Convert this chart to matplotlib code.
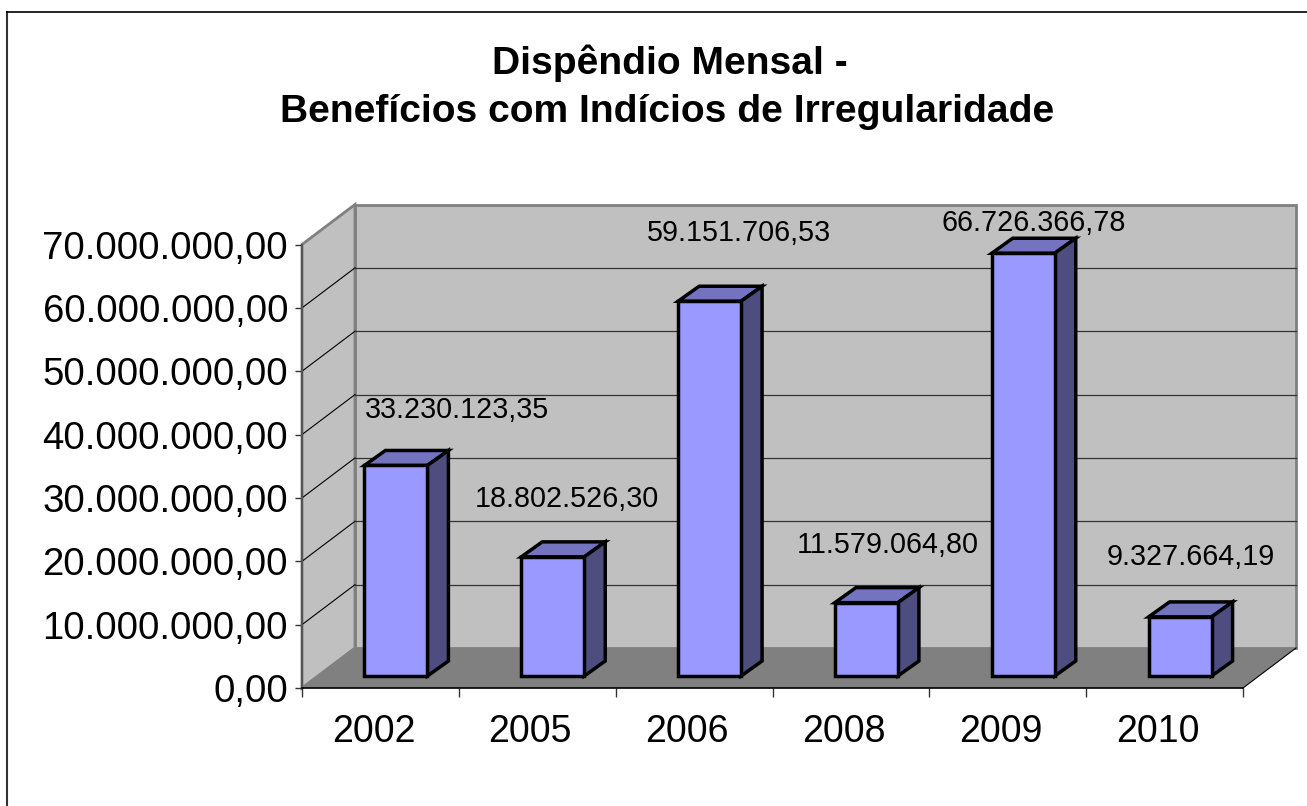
import matplotlib
matplotlib.use("Agg")
import matplotlib.pyplot as plt
from matplotlib.lines import Line2D

plt.rcParams["font.family"] = ["Liberation Sans", "DejaVu Sans"]

years = ["2002", "2005", "2006", "2008", "2009", "2010"]
values = [33230123.35, 18802526.30, 59151706.53, 11579064.80, 66726366.78, 9327664.19]
value_labels = ["33.230.123,35", "18.802.526,30", "59.151.706,53",
                "11.579.064,80", "66.726.366,78", "9.327.664,19"]
y_ticks = [0, 10e6, 20e6, 30e6, 40e6, 50e6, 60e6, 70e6]
y_tick_labels = ["0,00", "10.000.000,00", "20.000.000,00", "30.000.000,00",
                 "40.000.000,00", "50.000.000,00", "60.000.000,00", "70.000.000,00"]

# Label offsets in pixels from the top centre of each category (placed by hand in the original)
label_dx = [77, 30, 45, 37, 26, 26]
label_dy = [55, 58, 68, 58, 30, 60]

W, H = 1307, 806
fig = plt.figure(figsize=(W / 100, H / 100), dpi=100)

# front plane of the fake 3D box, pixel positions of the axes
left, right, bottom, top = 302, 1243, 688, 244.5
ax = fig.add_axes([left / W, 1 - bottom / H, (right - left) / W, (bottom - top) / H])
ax.set_xlim(0, len(years))
ax.set_ylim(0, 70e6)
ax.patch.set_visible(False)

px_x = len(years) / (right - left)
px_y = 70e6 / (bottom - top)


def shift(x, y, dx, dy):
    # move a data point by some pixels, y going up
    return x + dx * px_x, y + dy * px_y


def poly(points, **kw):
    xs = [p[0] for p in points]
    ys = [p[1] for p in points]
    ax.fill(xs, ys, clip_on=False, **kw)


depth_x, depth_y = 53, 40
n = len(years)
ymax = 70e6

# walls and floor
poly([shift(0, 0, depth_x, depth_y), shift(n, 0, depth_x, depth_y),
      shift(n, ymax, depth_x, depth_y), shift(0, ymax, depth_x, depth_y)],
     facecolor="#C0C0C0", edgecolor="#808080", linewidth=2, zorder=1)
poly([(0, 0), shift(0, 0, depth_x, depth_y), shift(0, ymax, depth_x, depth_y), (0, ymax)],
     facecolor="#C0C0C0", edgecolor="#808080", linewidth=2, zorder=1)
poly([(0, 0), (n, 0), shift(n, 0, depth_x, depth_y), shift(0, 0, depth_x, depth_y)],
     facecolor="#808080", edgecolor="none", zorder=2)

# gridlines, on the side wall then the back wall
for t in y_ticks[1:-1]:
    x1, y1 = shift(0, t, depth_x, depth_y)
    x2, y2 = shift(n, t, depth_x, depth_y)
    ax.plot([0, x1], [t, y1], color="black", lw=0.8, clip_on=False, zorder=2)
    ax.plot([x1, x2], [y1, y2], color="#333333", lw=0.9, clip_on=False, zorder=2)

# floor edges
fx, fy = shift(n, 0, depth_x, depth_y)
ax.plot([n, fx], [0, fy], color="black", lw=0.8, clip_on=False, zorder=3)
fx, fy = shift(0, 0, depth_x, depth_y)
ax.plot([0, fx], [0, fy], color="#808080", lw=0.8, clip_on=False, zorder=3)

# bars: front face with ax.bar, top and side as polygons
bar_w = 63 * px_x
off_x, off_y = 15.5, 12
bar_dx, bar_dy = 21, 15
edge = dict(edgecolor="black", linewidth=2.5, joinstyle="miter", zorder=5)
for i, v in enumerate(values):
    cx, by = shift(i + 0.5, 0, off_x, off_y)
    x0, x1 = cx - bar_w / 2, cx + bar_w / 2
    y1 = by + v
    poly([(x0, y1), (x1, y1), shift(x1, y1, bar_dx, bar_dy), shift(x0, y1, bar_dx, bar_dy)],
         facecolor="#7373BF", **edge)
    poly([(x1, by), (x1, y1), shift(x1, y1, bar_dx, bar_dy), shift(x1, by, bar_dx, bar_dy)],
         facecolor="#4D4D80", **edge)
    ax.bar(cx, v, width=bar_w, bottom=by, color="#9999FF", clip_on=False, **edge)
    # label sits above the bar front top
    ax.annotate(value_labels[i], (i + 0.5, by + v),
                xytext=(label_dx[i], label_dy[i]), textcoords="offset pixels",
                ha="center", va="center", fontsize=20.7, color="black", zorder=6,
                annotation_clip=False)

# axes
for s in ["top", "right"]:
    ax.spines[s].set_visible(False)
ax.spines["left"].set_color("#555555")
ax.spines["left"].set_linewidth(1.5)
ax.spines["left"].set_zorder(4)
ax.spines["bottom"].set_color("black")
ax.spines["bottom"].set_linewidth(1.2)
ax.spines["bottom"].set_zorder(4)
ax.set_yticks(y_ticks)
ax.set_yticklabels(y_tick_labels, fontsize=27.6)
ax.tick_params(axis="y", length=5, width=1, color="#333333", pad=5)
ax.set_xticks(range(n + 1))
ax.set_xticklabels([""] * (n + 1))
ax.tick_params(axis="x", length=6.5, width=1, color="#333333")
for i, y in enumerate(years):
    ax.annotate(y, (i + 0.5, 0), xytext=(-7, -54), textcoords="offset pixels",
                ha="center", va="baseline", fontsize=27, annotation_clip=False)

# title
fig.text(670 / W, 1 - 74 / H, "Dispêndio Mensal -", ha="center", va="baseline",
         fontsize=28.1, fontweight="bold")
fig.text(667 / W, 1 - 122 / H, "Benefícios com Indícios de Irregularidade", ha="center",
         va="baseline", fontsize=28.1, fontweight="bold")

# chart border, right and bottom fall outside the picture
fig.add_artist(Line2D([7 / W, 7 / W], [0, 1 - 11.5 / H], color="#333333", lw=1.5))
fig.add_artist(Line2D([7 / W, 1], [1 - 11.5 / H, 1 - 11.5 / H], color="black", lw=1.2))

fig.savefig("out.png", dpi=100)
